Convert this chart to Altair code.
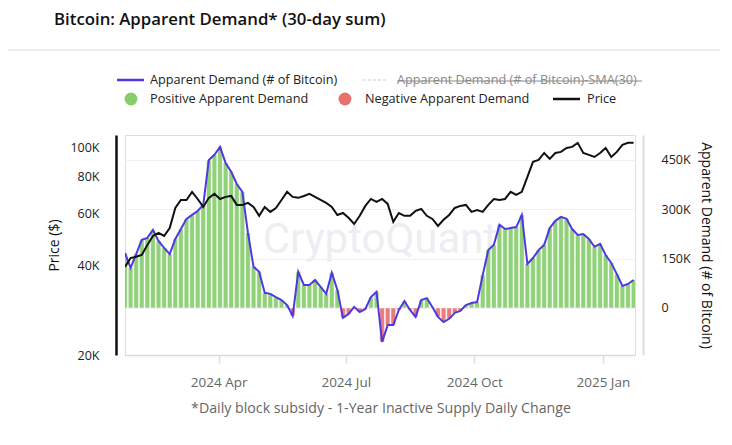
import altair as alt
import numpy as np
import pandas as pd

# ---------------- data (one point every 4 days) -------------
dates = pd.date_range("2024-01-25", periods=92, freq="4D")

demand = [167000, 122000, 164000, 207000, 213000, 237000, 204000, 183000, 164000, 210000,
          240000, 271000, 283000, 295000, 313000, 450000, 466000, 490000, 441000, 414000,
          377000, 353000, 228000, 125000, 110000, 46000, 43000, 33000, 24000, 9000,
          -24000, 110000, 70000, 70000, 85000, 64000, 43000, 107000, 55000, -30000,
          -18000, 3000, -12000, -3000, 33000, 49000, -103000, -52000, -52000, -6000,
          21000, -6000, -27000, 24000, 30000, 3000, -27000, -43000, -33000, -15000,
          -9000, 9000, 15000, 18000, 100000, 176000, 192000, 253000, 240000, 243000,
          246000, 283000, 134000, 152000, 176000, 192000, 243000, 265000, 277000, 271000,
          240000, 222000, 225000, 210000, 186000, 195000, 161000, 137000, 103000, 67000,
          73000, 85000]

price = [39600, 42400, 42800, 43400, 46900, 50300, 51500, 50300, 53500, 62500,
         66500, 66500, 70800, 67000, 63000, 67600, 69700, 67000, 68100, 68600,
         64000, 64000, 65000, 63000, 58800, 63000, 60600, 62500, 66500, 70800,
         68100, 67600, 68600, 69700, 68100, 66500, 65000, 63000, 59200, 60100,
         57900, 55200, 58800, 63500, 67000, 65500, 67000, 64500, 56100, 60100,
         58800, 58800, 61100, 62000, 58800, 57400, 54400, 57000, 59200, 62500,
         63500, 64000, 60600, 61500, 60600, 64000, 67000, 66500, 67000, 70800,
         69200, 70800, 79500, 89300, 90700, 95700, 91400, 95700, 96500, 99500,
         100300, 103500, 95700, 94300, 92800, 95700, 99500, 92800, 96500, 101900,
         103500, 103500]

price_ticks = [20000, 40000, 60000, 80000, 100000]
demand_ticks = [0, 150000, 300000, 450000]

title_text = "Bitcoin: Apparent Demand* (30-day sum)"
footer_text = "*Daily block subsidy - 1-Year Inactive Supply Daily Change"
legend_texts = ["Apparent Demand (# of Bitcoin)",
                "Apparent Demand (# of Bitcoin)-SMA(30)",
                "Positive Apparent Demand",
                "Negative Apparent Demand",
                "Price"]

# ---------------- styling ----------------
FONT = "Open Sans"
GREEN = "#86cd6c"
RED = "#e8706e"
BLUE = "#5038e0"
W, H = 510, 220

df = pd.DataFrame({"date": dates, "demand": demand, "price": price})
df["start"] = df["date"] - pd.Timedelta(hours=40)
df["end"] = df["date"] + pd.Timedelta(hours=40)
df["sign"] = np.where(df["demand"] >= 0, "pos", "neg")

xscale = alt.Scale(domain=[alt.DateTime(year=2024, month=1, date=25),
                           alt.DateTime(year=2025, month=1, date=24)])
xaxis = alt.Axis(values=[alt.DateTime(year=2024, month=4, date=1),
                         alt.DateTime(year=2024, month=7, date=1),
                         alt.DateTime(year=2024, month=10, date=1),
                         alt.DateTime(year=2025, month=1, date=1)],
                 format="%Y %b", grid=False, domainColor="#d9d9e3", domainWidth=1.5,
                 tickColor="#dedee6", tickSize=8, tickWidth=1.5, labelPadding=12,
                 labelColor="#666666", labelFontSize=13.5, labelFont=FONT, title=None)


def X(field):
    return alt.X(field, type="temporal", scale=xscale, axis=xaxis, title=None)


dscale = alt.Scale(domain=[-143000, 526000], nice=False, zero=False)
daxis = alt.Axis(orient="right", values=demand_ticks, offset=8,
                 labelExpr="datum.value == 0 ? '0' : (datum.value / 1000) + 'K'",
                 domainColor="#dcdce4", domainWidth=2, ticks=False, labelPadding=18,
                 grid=True, gridColor="#f0f0f3", gridWidth=1.2,
                 labelColor="#222222", labelFontSize=12.5, labelFont=FONT,
                 title="Apparent Demand (# of Bitcoin)", titleAngle=90,
                 titleFontSize=14, titleFontWeight="normal", titleColor="#111111",
                 titleFont=FONT, titlePadding=8)

pscale = alt.Scale(type="log", domain=[20000, 110000], nice=False)
paxis = alt.Axis(orient="left", values=price_ticks, offset=9,
                 labelExpr="(datum.value / 1000) + 'K'",
                 domainColor="#111111", domainWidth=2.5, ticks=False, labelPadding=17,
                 grid=False, labelColor="#222222", labelFontSize=12.5, labelFont=FONT,
                 title="Price ($)", titleFontSize=14, titleFontWeight="normal",
                 titleColor="#111111", titleFont=FONT, titlePadding=8)

base = alt.Chart(df)

watermark = alt.Chart(pd.DataFrame({"t": ["CryptoQuant"]})).mark_text(
    font="Roboto", fontSize=42, color="#ededf2", align="center", baseline="middle"
).encode(x=alt.value(255), y=alt.value(105), text="t:N")

bars = base.mark_rect(clip=True, opacity=0.9, stroke="white", strokeWidth=0.6,
                      strokeOpacity=0.8).encode(
    x=X("start"), x2="end:T",
    y=alt.Y("demand:Q", scale=dscale, axis=daxis), y2=alt.datum(0),
    color=alt.Color("sign:N", scale=alt.Scale(domain=["pos", "neg"], range=[GREEN, RED]),
                    legend=None),
)
dline = base.mark_line(color=BLUE, strokeWidth=2, clip=True).encode(
    x=X("date"), y=alt.Y("demand:Q", scale=dscale, axis=daxis))
demand_layer = alt.layer(bars, dline)

pline = base.mark_line(color="#111111", strokeWidth=2, clip=True).encode(
    x=X("date"), y=alt.Y("price:Q", scale=pscale, axis=paxis))


def txt(s, x, y, size=12.7, color="#222222", align="left", weight="normal"):
    return alt.Chart(pd.DataFrame({"t": [s]})).mark_text(
        font=FONT, fontSize=size, color=color, align=align, baseline="middle",
        fontWeight=weight
    ).encode(x=alt.value(x), y=alt.value(y), text="t:N")


def rule(x1, x2, y, color, width=2.0, dash=None):
    kw = {"color": color, "strokeWidth": width}
    if dash:
        kw["strokeDash"] = dash
    return alt.Chart(pd.DataFrame({"a": [0]})).mark_rule(**kw).encode(
        x=alt.value(x1), x2=alt.value(x2), y=alt.value(y))


def dot(x, y, color):
    return alt.Chart(pd.DataFrame({"a": [0]})).mark_circle(
        color=color, opacity=1, size=165).encode(x=alt.value(x), y=alt.value(y))


deco = [
    txt(title_text, -71, -115, size=16.8, color="#111111", weight=600),
    rule(-125, 607, -85, "#e8e8ec", 1.5),
    # legend row 1
    rule(-8, 19, -55, BLUE, 2.5),
    txt(legend_texts[0], 25, -55),
    rule(238, 263, -55, "#cccccc", 1.2, [3, 2]),
    txt(legend_texts[1], 272, -55, color="#8a8a8a"),
    rule(272, 517, -54, "#8a8a8a", 1.0),
    # legend row 2
    dot(6, -36, GREEN),
    txt(legend_texts[2], 25, -36),
    dot(220, -36, RED),
    txt(legend_texts[3], 240, -36),
    rule(428, 455, -36, "#111111", 2.5),
    txt(legend_texts[4], 462, -36),
    # footer
    txt(footer_text, 256, 274, size=14.2, color="#666666", align="center"),
]

chart = alt.layer(watermark, demand_layer, pline, *deco).resolve_scale(
    y="independent"
).properties(
    width=W, height=H,
    padding={"left": 117, "top": 127, "right": 85, "bottom": 75},
    autosize=alt.AutoSizeParams(type="none"),
).configure_view(stroke=None).configure(background="white")

chart.save("out.html", embed_options={"renderer": "svg", "actions": False})
